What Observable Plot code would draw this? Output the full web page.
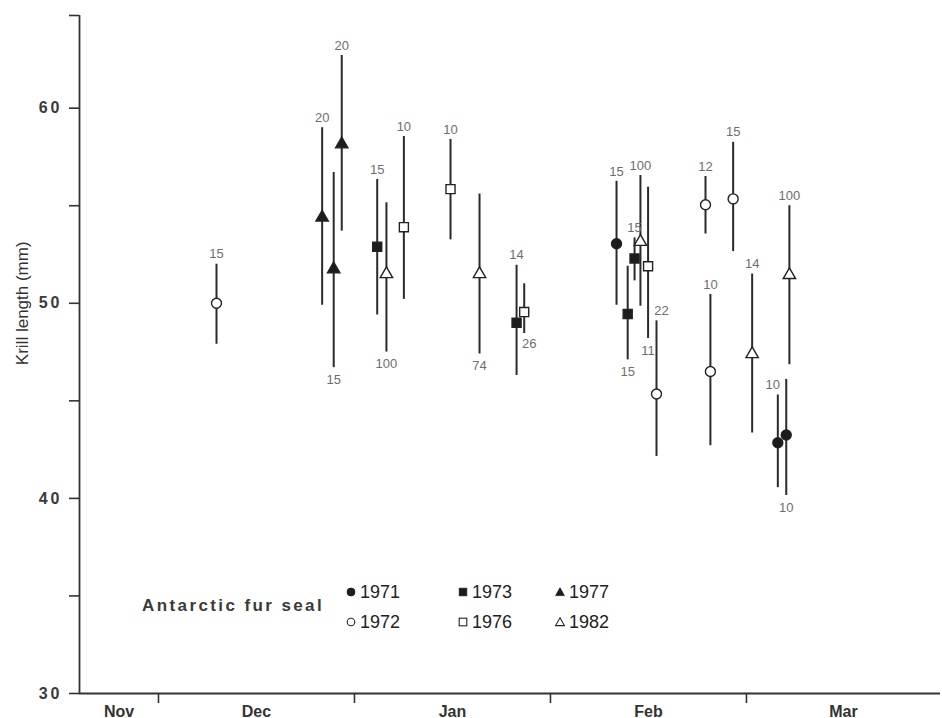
<!DOCTYPE html>
<html>
<head>
<meta charset="utf-8">
<script src="https://cdn.jsdelivr.net/npm/d3@7"></script>
<script src="https://cdn.jsdelivr.net/npm/@observablehq/plot@0.6"></script>
<style>
  html, body { margin: 0; padding: 0; background: #fff; }
  #wrap { position: relative; width: 942px; height: 718px; font-family: "Liberation Sans", Arial, sans-serif; }
  #wrap > svg { position: absolute; left: 0; top: 0; }
  g[aria-label="y-axis tick label"] text { letter-spacing: 3px; }
  #legend { position: absolute; left: 0; top: 0; width: 942px; height: 718px; pointer-events: none; color: #222; }
  .lg-title { position: absolute; left: 142px; top: 596px; font-size: 17px; font-weight: bold; letter-spacing: 2.4px; color: #3a3a3a; line-height: 20px; }
  .lg-item { position: absolute; font-size: 18px; line-height: 22px; color: #222; display: flex; align-items: center; white-space: nowrap; }
  .lg-item svg { display: block; margin-right: 3px; }
</style>
</head>
<body>
<div id="wrap"></div>
<script>
// Months after 1 December (each month drawn the same width)
const season = [0.296, 0.835, 0.894, 0.935, 1.116, 1.163, 1.252, 1.490, 1.638, 1.827, 1.866,
                2.337, 2.394, 2.429, 2.459, 2.498, 2.541, 2.816, 2.791, 2.932, 3.029, 3.219, 3.160, 3.203];
const year   = [1972, 1977, 1977, 1977, 1973, 1982, 1976, 1976, 1982, 1973, 1976,
                1971, 1973, 1973, 1982, 1976, 1972, 1972, 1972, 1972, 1982, 1982, 1971, 1971];
const meanLength = [50.0, 54.4, 51.75, 58.15, 52.9, 51.5, 53.9, 55.85, 51.5, 49.0, 49.55,
                    53.05, 49.45, 52.3, 53.15, 51.9, 45.35, 46.5, 55.05, 55.35, 47.4, 51.45, 42.85, 43.25];
const lowLength  = [47.9, 49.9, 46.7, 53.7, 49.4, 47.5, 50.2, 53.25, 47.4, 46.3, 48.45,
                    49.9, 47.1, 51.15, 49.85, 48.2, 42.15, 42.7, 53.55, 52.65, 43.35, 46.85, 40.55, 40.15];
const highLength = [52.0, 59.0, 56.7, 62.7, 56.35, 55.15, 58.55, 58.4, 55.6, 51.95, 51.0,
                    56.25, 51.9, 53.35, 56.55, 55.95, 49.1, 50.45, 56.5, 58.25, 51.5, 55.0, 45.3, 46.1];
const sampleN    = [15, 20, 15, 20, 15, 100, 10, 10, 74, 14, 26,
                    15, 15, 15, 100, 11, 22, 10, 12, 15, 14, 100, 10, 10];
const labelSide  = ["top", "top", "bottom", "top", "top", "bottom", "top", "top", "bottom", "top", "bottomright",
                    "top", "bottom", "top", "top", "bottom", "topright", "top", "top", "top", "top", "top", "topleft", "bottom"];

const months = ["Nov", "Dec", "Jan", "Feb", "Mar"];
const monthStarts = [0, 1, 2, 3];           // 1 Dec, 1 Jan, 1 Feb, 1 Mar
const xDomain = [-0.403, 3.99];
const yDomain = [30, 64.75];
const yTicks = [30, 35, 40, 45, 50, 55, 60, 64.75];

const legendYears = [1971, 1972, 1973, 1976, 1977, 1982];
const shapeOf = {1971: "circle", 1972: "circle", 1973: "square", 1976: "square", 1977: "triangle", 1982: "triangle"};
const filledYears = [1971, 1973, 1977];

const rows = season.map((s, i) => ({
  season: s, year: year[i], mean: meanLength[i], lo: lowLength[i], hi: highLength[i],
  n: sampleN[i], side: labelSide[i]
}));
const fillOf = d => filledYears.includes(d.year) ? "#1c1c1c" : "#ffffff";

// month label centers = middle between month boundaries
const bounds = [xDomain[0], ...monthStarts, xDomain[1]];
const monthLabels = months.map((m, i) => ({name: m, x: (bounds[i] + bounds[i + 1]) / 2}));

const labelText = "#6e6e6e";
const dotOpts = (shape, r) => ({
  filter: d => shapeOf[d.year] === shape,
  x: "season", y: "mean", symbol: shape, r,
  fill: fillOf, stroke: "#222", strokeWidth: 1.4
});
const nLabel = (side, anchorY, dx, dy) => Plot.text(rows, {
  filter: d => d.side === side, x: "season", y: anchorY, text: d => String(d.n),
  dx, dy, fill: labelText, fontSize: 13, fontFamily: "Liberation Sans, Arial, sans-serif",
  textAnchor: "middle", lineAnchor: "middle"
});

const chart = Plot.plot({
  width: 942,
  height: 718,
  marginLeft: 79,
  marginRight: 2,
  marginTop: 15,
  marginBottom: 25,
  style: {fontFamily: "Liberation Sans, Arial, sans-serif", background: "white", overflow: "visible"},
  color: {type: "identity"},
  x: {domain: xDomain, axis: null},
  y: {domain: yDomain, axis: null},
  marks: [
    Plot.axisY({
      ticks: yTicks, tickSize: 10, tickPadding: 7, strokeWidth: 1.6, stroke: "#333",
      tickFormat: d => (d % 10 === 0 ? String(d) : ""),
      fontSize: 16, fontWeight: "bold", fill: "#3a3a3a", label: null
    }),
    Plot.axisX({
      ticks: monthStarts, tickSize: 10, strokeWidth: 1.6, stroke: "#333",
      tickFormat: () => "", label: null
    }),
    Plot.ruleX([xDomain[0]], {y1: yDomain[0], y2: yDomain[1], stroke: "#333", strokeWidth: 1.8}),
    Plot.ruleY([yDomain[0]], {x1: xDomain[0], x2: xDomain[1], stroke: "#333", strokeWidth: 1.8}),
    Plot.text(monthLabels, {
      x: "x", text: "name", frameAnchor: "bottom", dy: 18, lineAnchor: "middle",
      fontSize: 16, fontWeight: "bold", fill: "#333"
    }),
    Plot.text(["Krill length (mm)"], {
      y: d3.mean([40, 60]), frameAnchor: "left", dx: -57, rotate: -90,
      fontSize: 17, fill: "#333", textAnchor: "middle", lineAnchor: "middle"
    }),
    Plot.ruleX(rows, {x: "season", y1: "lo", y2: "hi", stroke: "#2a2a2a", strokeWidth: 2}),
    Plot.dot(rows, dotOpts("circle", 5)),
    Plot.dot(rows, dotOpts("square", 5.1)),
    Plot.dot(rows, dotOpts("triangle", 4.6)),
    nLabel("top", "hi", 0, -10),
    nLabel("topright", "hi", 5, -10),
    nLabel("topleft", "hi", -5, -10),
    nLabel("bottom", "lo", 0, 12),
    nLabel("bottomright", "lo", 5, 10)
  ]
});

const wrap = document.getElementById("wrap");
wrap.appendChild(chart);

// Legend (HTML overlay inside the plot area)
const legend = document.createElement("div");
legend.id = "legend";
wrap.appendChild(legend);
const title = document.createElement("div");
title.className = "lg-title";
title.textContent = "Antarctic fur seal";
legend.appendChild(title);

const colLeft = [345, 457, 554];
const rowTop = [581, 611];
function iconSVG(yr) {
  const shape = shapeOf[yr];
  const filled = filledYears.includes(yr);
  const fill = filled ? "#1c1c1c" : "#fff";
  const sw = filled ? 0.8 : 1.1;
  let inner;
  if (shape === "circle") inner = `<circle cx="6" cy="6" r="${filled ? 4 : 3.8}" fill="${fill}" stroke="#222" stroke-width="${sw}"/>`;
  else if (shape === "square") inner = `<rect x="2.2" y="2.2" width="7.6" height="7.6" fill="${fill}" stroke="#222" stroke-width="${sw}"/>`;
  else inner = `<polygon points="6,1.8 10.4,9.6 1.6,9.6" fill="${fill}" stroke="#222" stroke-width="${sw}"/>`;
  return `<svg width="12" height="12" viewBox="0 0 12 12">${inner}</svg>`;
}
legendYears.forEach((yr, i) => {
  const col = Math.floor(i / 2), row = i % 2;
  const item = document.createElement("div");
  item.className = "lg-item";
  item.style.left = colLeft[col] + "px";
  item.style.top = rowTop[row] + "px";
  item.innerHTML = iconSVG(yr) + `<span>${yr}</span>`;
  legend.appendChild(item);
});
</script>
</body>
</html>
